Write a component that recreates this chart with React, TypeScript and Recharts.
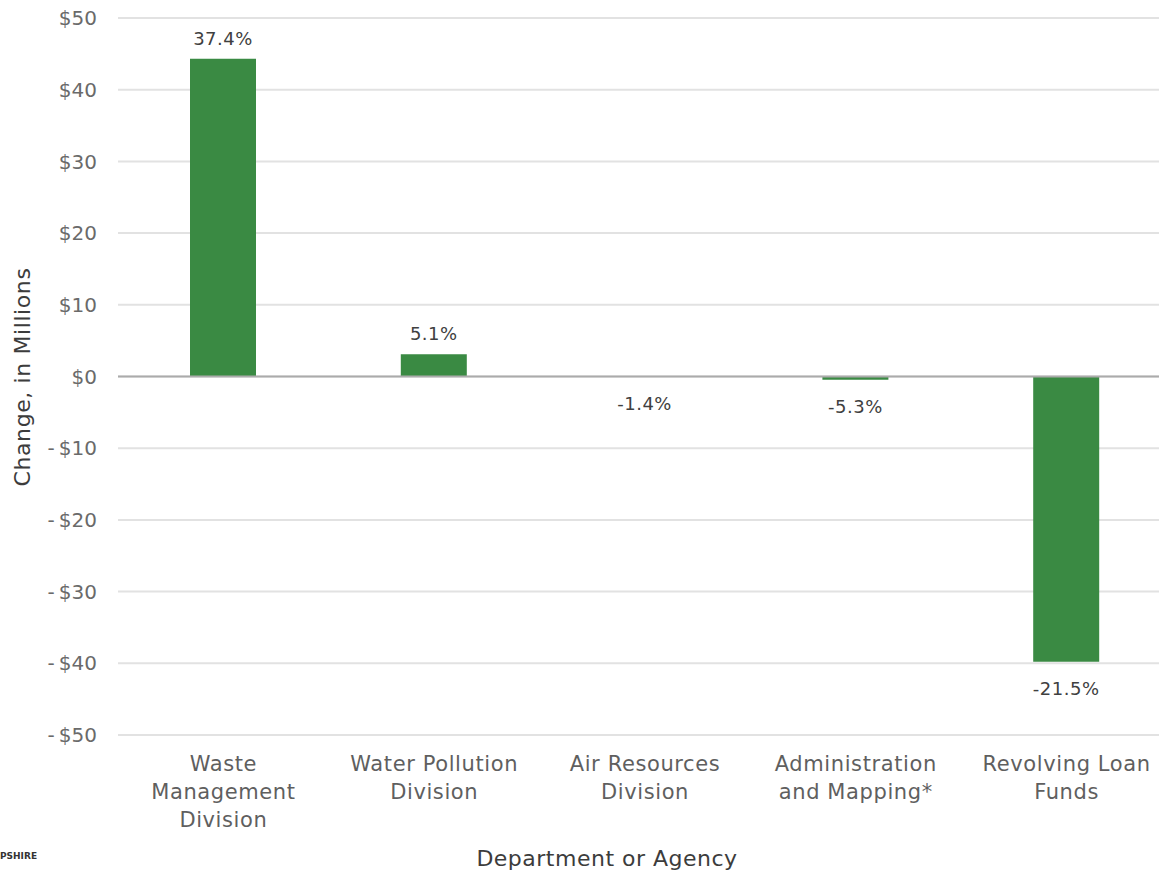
import { BarChart, Bar, XAxis, YAxis, CartesianGrid, ReferenceLine, LabelList, Label } from 'recharts';

const categories = ['Waste\nManagement\nDivision', 'Water Pollution\nDivision', 'Air Resources\nDivision', 'Administration\nand Mapping*', 'Revolving Loan\nFunds'];
const changes = [44.3, 3.1, -0.05, -0.45, -39.8];
const pctLabels = ['37.4%', '5.1%', '-1.4%', '-5.3%', '-21.5%'];
const yTicks = [50, 40, 30, 20, 10, 0, -10, -20, -30, -40, -50];

const FONT = '"DejaVu Sans", "Noto Sans", sans-serif';

const data = categories.map((name, i) => ({ name, change: changes[i], pct: pctLabels[i] }));

const fmtMoney = (v: number) => (v < 0 ? `-\u2009$${Math.abs(v)}` : `$${v}`);

const XTick = ({ x, y, payload }: any) => {
  const lines = String(payload.value).split('\n');
  return (
    <text x={x} y={y} textAnchor="middle" fill="#5f5f5f" fontSize={21} letterSpacing={0.6} fontFamily={FONT}>
      {lines.map((l, i) => (
        <tspan key={i} x={x} dy={i === 0 ? 22 : 28}>{l}</tspan>
      ))}
    </text>
  );
};

const ValueLabel = (props: any) => {
  const { x, y, width, height, index } = props;
  const txt = pctLabels[index];
  const neg = txt.startsWith('-');
  const top = Math.min(y, y + height);
  const bottom = Math.max(y, y + height);
  return (
    <text
      x={x + width / 2}
      y={neg ? bottom + 33 : top - 14}
      textAnchor="middle"
      fill="#404040"
      fontSize={18}
      letterSpacing={0.5}
      fontFamily={FONT}
    >
      {txt}
    </text>
  );
};

export default function App() {
  return (
    <div style={{ position: 'absolute', left: 0, top: 0, width: 1159, height: 873, overflow: 'hidden', background: '#fff' }}>
      <BarChart width={1172} height={873} data={data} margin={{ top: 18, right: 0, bottom: 0, left: 0 }}>
        <CartesianGrid vertical={false} stroke="#e2e2e2" strokeWidth={2} />
        <XAxis dataKey="name" axisLine={false} tickLine={false} height={138} interval={0} tick={<XTick />} tickMargin={8}>
          <Label
            content={() => (
              <text x={607} y={866} textAnchor="middle" fill="#3c3c3c" fontSize={22} letterSpacing={0.5} fontFamily={FONT}>
                Department or Agency
              </text>
            )}
          />
        </XAxis>
        <YAxis
          width={118}
          domain={[-50, 50]}
          ticks={yTicks}
          axisLine={false}
          tickLine={false}
          tickMargin={15}
          tickFormatter={fmtMoney}
          tick={{ fill: '#6a6a6a', fontSize: 20, fontFamily: FONT }}
        >
          <Label
            content={() => (
              <text
                x={30}
                y={377}
                transform="rotate(-90 30 377)"
                textAnchor="middle"
                fill="#3c3c3c"
                fontSize={22}
                letterSpacing={0.6}
                fontFamily={FONT}
              >
                Change, in Millions
              </text>
            )}
          />
        </YAxis>
        <ReferenceLine y={0} stroke="#ababab" strokeWidth={2} />
        <Bar dataKey="change" fill="#3a8a43" barSize={66} isAnimationActive={false}>
          <LabelList dataKey="pct" content={<ValueLabel />} />
        </Bar>
      </BarChart>
      <div style={{ position: 'absolute', left: 0, top: 851, fontSize: 9, fontWeight: 700, color: '#333', fontFamily: FONT }}>PSHIRE</div>
    </div>
  );
}
